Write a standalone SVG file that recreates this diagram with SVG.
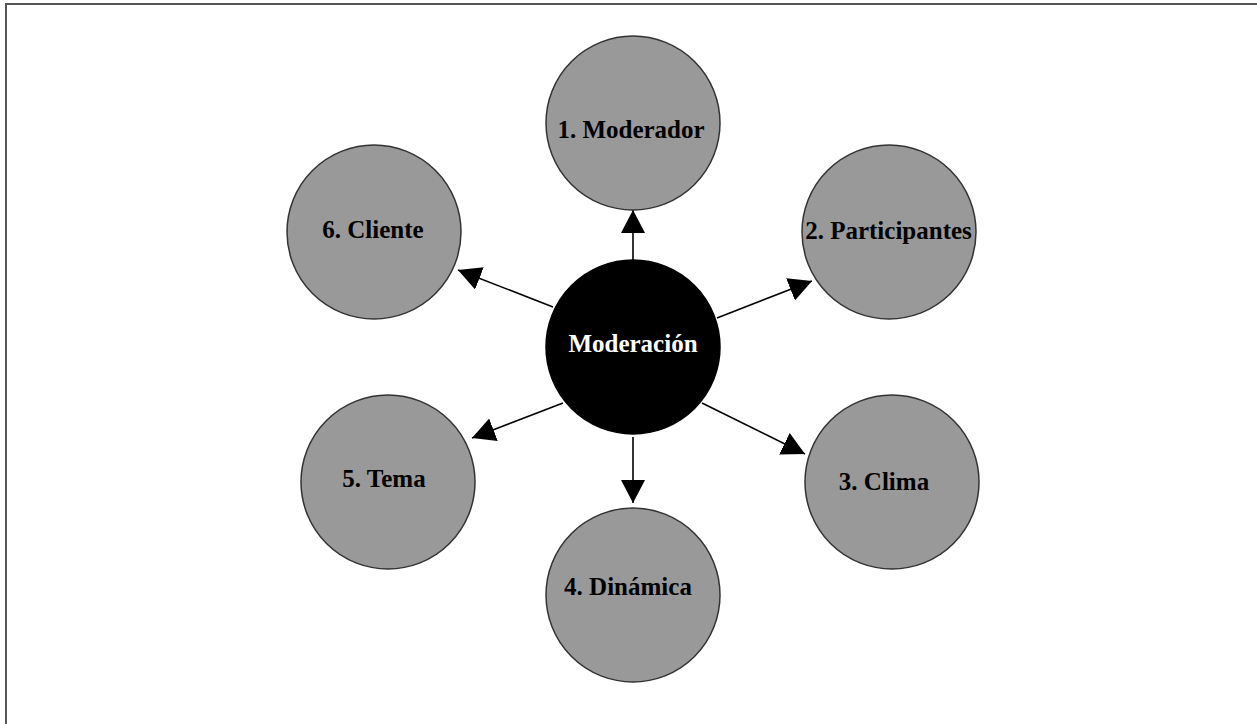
<svg xmlns="http://www.w3.org/2000/svg" width="1257" height="724" viewBox="0 0 1257 724">
<defs>
<style>
.node{fill:#999999;stroke:#333333;stroke-width:1.5}
.center{fill:#000000;stroke:#000000;stroke-width:1.5}
.lbl{font-family:"Liberation Serif","Times New Roman",serif;font-weight:bold;font-size:25px;text-anchor:middle;fill:#000}
.lblw{fill:#ffffff}
.edge{stroke:#000;stroke-width:1.6;fill:none;marker-end:url(#ah)}
</style>
<marker id="ah" viewBox="0 0 23 24" refX="23" refY="12" markerWidth="23" markerHeight="24" markerUnits="userSpaceOnUse" orient="auto">
<path d="M0,0 L23,12 L0,24 Z" fill="#000"/>
</marker>
</defs>
<rect width="1257" height="724" fill="#ffffff"/>
<path d="M6,724 L6,4 L1257,4" fill="none" stroke="#555555" stroke-width="2"/>
<g id="connectors">
<line class="edge" x1="633" y1="260" x2="633" y2="210"/>
<line class="edge" x1="717" y1="318" x2="812" y2="281"/>
<line class="edge" x1="702" y1="403" x2="805" y2="454"/>
<line class="edge" x1="633" y1="437" x2="633" y2="503"/>
<line class="edge" x1="563" y1="403" x2="472" y2="438"/>
<line class="edge" x1="553" y1="307" x2="458" y2="270"/>
</g>
<g id="moderacion">
<circle class="center" cx="633" cy="347" r="87"/>
<text class="lbl lblw" x="633" y="352">Moderación</text>
</g>
<g id="moderador">
<circle class="node" cx="633" cy="123" r="87"/>
<text class="lbl" x="631" y="138">1. Moderador</text>
</g>
<g id="participantes">
<circle class="node" cx="889" cy="232" r="87"/>
<text class="lbl" x="888.5" y="239">2. Participantes</text>
</g>
<g id="clima">
<circle class="node" cx="892" cy="482" r="87"/>
<text class="lbl" x="884" y="490">3. Clima</text>
</g>
<g id="dinamica">
<circle class="node" cx="633" cy="595" r="87"/>
<text class="lbl" x="628" y="595">4. Dinámica</text>
</g>
<g id="tema">
<circle class="node" cx="388" cy="482" r="87"/>
<text class="lbl" x="384" y="487">5. Tema</text>
</g>
<g id="cliente">
<circle class="node" cx="374" cy="232" r="87"/>
<text class="lbl" x="373" y="238">6. Cliente</text>
</g>
</svg>
